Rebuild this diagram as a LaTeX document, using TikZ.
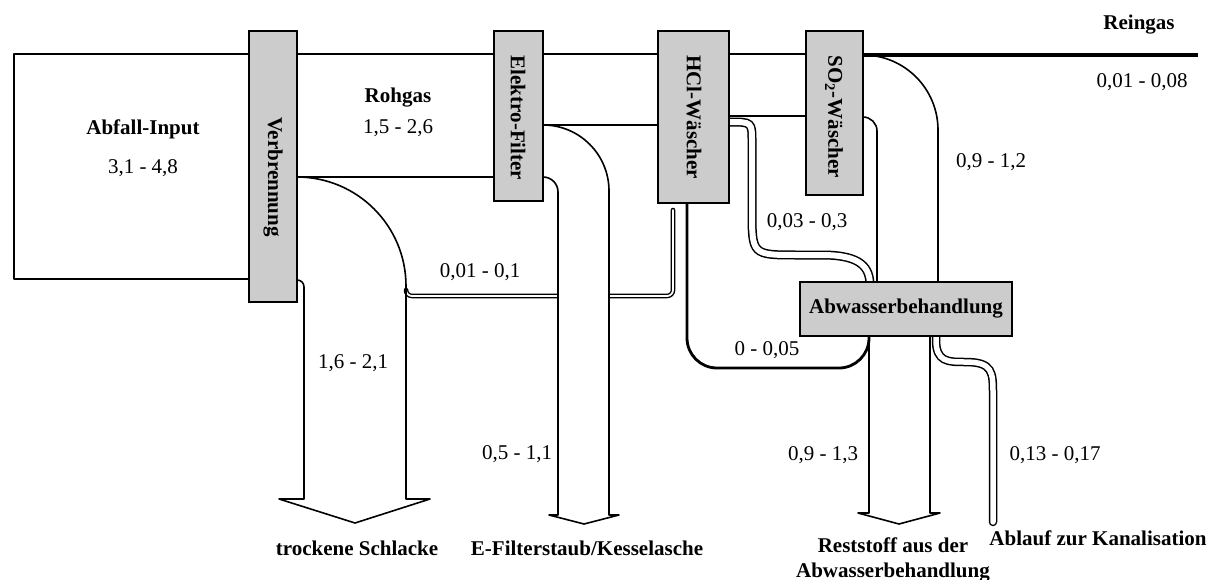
\documentclass[tikz,border=0pt]{standalone}
\usepackage{fontspec}
\setmainfont{Liberation Serif}
\begin{document}
\begin{tikzpicture}[x=1pt,y=-1pt,
  font=\fontsize{21pt}{25pt}\selectfont,
  edge/.style={line width=1.6pt, line join=round},
  proc/.style={draw, line width=1.6pt, fill=black!20, inner sep=0pt},
  thinpipe/.style={double, double distance=1.8pt, line width=1.4pt, line cap=round, rounded corners=6pt},
  pipe/.style={double, double distance=5.5pt, line width=1.5pt, line cap=round},
  lbl/.style={inner sep=0pt},
  blbl/.style={inner sep=0pt, font=\fontsize{21pt}{25pt}\selectfont\bfseries},
  vlbl/.style={inner sep=0pt, rotate=-90, font=\fontsize{21pt}{25pt}\selectfont\bfseries}]
\useasboundingbox (0,0) rectangle (1212,580);

% process boxes (placed first so the flows can refer to them; redrawn on top)
\path
  node[proc, minimum width=48pt,  minimum height=271pt] (verb) at (273,166.5) {}
  node[proc, minimum width=49pt,  minimum height=170pt] (efil) at (518.5,116) {}
  node[proc, minimum width=71pt,  minimum height=172pt] (hcl)  at (693.5,117) {}
  node[proc, minimum width=57pt,  minimum height=164pt] (so2)  at (834.5,113) {}
  node[proc, minimum width=212pt, minimum height=54pt]  (abw)  at (906,309) {};

% waste input and raw gas
\draw[edge] (249,54) -- (14,54) -- (14,279) -- (249,279);
\draw[edge] (297,54) -- (494,54);
\draw[edge] (297,177) -- (494,177);
\draw[edge] (543,54) -- (658,54);
\draw[edge] (543,125) -- (658,125);
\draw[edge] (729,54) -- (806,54);
\draw[edge] (729,116) -- (806,116);

% return flow from the HCl scrubber into the slag
\draw[thinpipe] (673,210) -- (673,296) -- (406,296) -- (406,290);

% slag band with arrow
\draw[edge] (297,177) .. controls (357.2,177) and (406,225.8) .. (406,286)
  -- (406,499) -- (430,499) -- (355,523) -- (279,499) -- (304,499) -- (304,287)
  .. controls (304,283) and (301,280) .. (297,280);

% filter dust band with arrow
\fill[white] (543,125) .. controls (579.5,125) and (609,154.5) .. (609,191)
  -- (609,515) -- (558,515) -- (558,192)
  .. controls (558,183.7) and (551.3,177) .. (543,177) -- cycle;
\draw[edge] (543,125) .. controls (579.5,125) and (609,154.5) .. (609,191)
  -- (609,515) -- (619,515) -- (584,524) -- (549,515) -- (558,515) -- (558,192)
  .. controls (558,183.7) and (551.3,177) .. (543,177);

% HCl scrubber loop into the residue
\draw[line width=2.8pt, rounded corners=30pt] (687,203) -- (687,368) -- (869,368) -- (869,337);

% HCl scrubber water to treatment
\draw[pipe, double distance=6pt] (725,122) -- (729,122) .. controls (752,122) .. (752,142) -- (752,210)
  .. controls (752,255) .. (797,255) -- (822,255)
  .. controls (862,255) and (870,268) .. (870,286);

% SO2 scrubber water to treatment
\draw[edge] (863,55) .. controls (904.4,55) and (938,88.6) .. (938,130) -- (938,282);
\draw[edge] (863,117) .. controls (870.7,117) and (877,123.3) .. (877,131) -- (877,282);

% clean gas
\draw[line width=3.2pt] (863,55) -- (1198,55);

% residue arrow
\draw[edge] (869,336) -- (869,513) -- (858,513) -- (899,524) -- (940,513) -- (930,513) -- (930,336);

% effluent to sewer
\draw[pipe] (936,330) -- (936,340) .. controls (936,362) and (948,362) .. (965,362)
  .. controls (993,362) and (993,372) .. (993,395) -- (993,522);

% boxes on top
\path
  node[proc, minimum width=48pt,  minimum height=271pt] at (273,166.5) {}
  node[proc, minimum width=49pt,  minimum height=170pt] at (518.5,116) {}
  node[proc, minimum width=71pt,  minimum height=172pt] at (693.5,117) {}
  node[proc, minimum width=57pt,  minimum height=164pt] at (834.5,113) {}
  node[proc, minimum width=212pt, minimum height=54pt]  at (906,309) {};

% box labels
\node[vlbl] (tverb) at (273,177) {Verbrennung};
\node[vlbl] (tefil) at (518,118) {Elektro-Filter};
\node[vlbl] (thcl)  at (694,117) {HCl-Wäscher};
\node[vlbl] (tso2)  at (834,117) {SO\textsubscript{2}-Wäscher};
\node[blbl] (tabw)  at (906,309) {Abwasserbehandlung};

% flow labels
\node[blbl] (tin)   at (143,129) {Abfall-Input};
\node[lbl]  (vin)   at (143,168) {3,1 - 4,8};
\node[blbl] (traw)  at (398,98)  {Rohgas};
\node[lbl]  (vraw)  at (398,128) {1,5 - 2,6};
\node[blbl] (tclean) at (1139,25) {Reingas};
\node[lbl]  (vclean) at (1142,82) {0,01 - 0,08};
\node[lbl]  (vso2)  at (991,162) {0,9 - 1,2};
\node[lbl]  (vhcl)  at (807,222) {0,03 - 0,3};
\node[lbl]  (vret)  at (480,272) {0,01 - 0,1};
\node[lbl]  (vslag) at (353,363) {1,6 - 2,1};
\node[lbl]  (vdust) at (517,454) {0,5 - 1,1};
\node[lbl]  (vloop) at (767,350) {0 - 0,05};
\node[lbl]  (vres)  at (823,455) {0,9 - 1,3};
\node[lbl]  (vout)  at (1055,455) {0,13 - 0,17};

% outputs
\node[blbl] (oslag) at (357,548) {trockene Schlacke};
\node[blbl] (odust) at (587,548) {E-Filterstaub/Kesselasche};
\node[blbl, align=center] (ores) at (893,560) {Reststoff aus der\\Abwasserbehandlung};
\node[blbl] (oout)  at (1098,538) {Ablauf zur Kanalisation};
\end{tikzpicture}
\end{document}
